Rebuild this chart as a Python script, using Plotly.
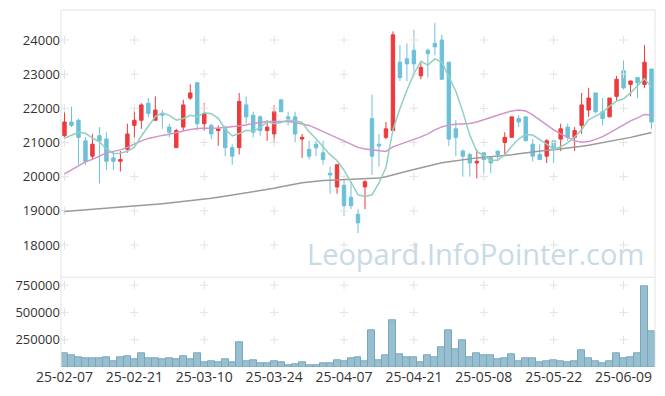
import plotly.graph_objects as go

dates = [
    "25-02-07", "25-02-10", "25-02-11", "25-02-12", "25-02-13", "25-02-14", "25-02-17", "25-02-18",
    "25-02-19", "25-02-20", "25-02-21", "25-02-24", "25-02-25", "25-02-26", "25-02-27", "25-02-28",
    "25-03-04", "25-03-05", "25-03-06", "25-03-07", "25-03-10", "25-03-11", "25-03-12", "25-03-13",
    "25-03-14", "25-03-17", "25-03-18", "25-03-19", "25-03-20", "25-03-21", "25-03-24", "25-03-25",
    "25-03-26", "25-03-27", "25-03-28", "25-03-31", "25-04-01", "25-04-02", "25-04-03", "25-04-04",
    "25-04-07", "25-04-08", "25-04-09", "25-04-10", "25-04-11", "25-04-14", "25-04-15", "25-04-16",
    "25-04-17", "25-04-18", "25-04-21", "25-04-22", "25-04-23", "25-04-24", "25-04-25", "25-04-28",
    "25-04-29", "25-04-30", "25-05-02", "25-05-07", "25-05-08", "25-05-09", "25-05-12", "25-05-13",
    "25-05-14", "25-05-15", "25-05-16", "25-05-19", "25-05-20", "25-05-21", "25-05-22", "25-05-23",
    "25-05-26", "25-05-27", "25-05-28", "25-05-29", "25-05-30", "25-06-02", "25-06-04", "25-06-05",
    "25-06-09", "25-06-10", "25-06-11", "25-06-12", "25-06-13",
]

opens = [
    21200, 21600, 21650, 21050, 20600, 21200, 21100, 20550, 20450, 20800,
    21500, 21650, 22150, 21650, 21850, 21450, 20850, 21450, 22300, 22750,
    21550, 21500, 21350, 21400, 20850, 20850, 22100, 21800, 21750, 21350,
    21250, 22250, 21750, 21750, 21100, 20800, 20950, 20700, 20100, 19700,
    19750, 19400, 18900, 19700, 21700, 20950, 21150, 21350, 23350, 23450,
    23700, 22950, 23700, 23900, 24000, 23350, 21400, 20750, 20650, 20400,
    20700, 20550, 20750, 21000, 21150, 21700, 21750, 20950, 20650, 20600,
    21050, 21100, 21450, 21150, 21500, 21950, 22450, 21900, 21750, 22350,
    23100, 22700, 22900, 22700, 23150,
]
highs = [
    21900, 22050, 21700, 21150, 21250, 21450, 21300, 20750, 20750, 21550,
    21950, 22150, 22300, 22350, 21950, 21550, 21400, 22250, 22700, 22750,
    22150, 21550, 21500, 21500, 20950, 22450, 22350, 21900, 21800, 21650,
    22100, 22250, 21900, 21900, 21250, 21050, 21050, 21050, 20300, 20350,
    19900, 19850, 19050, 19900, 22400, 21250, 21600, 24250, 23850, 23900,
    24300, 23350, 23750, 24500, 24150, 23350, 21650, 20800, 20700, 20800,
    20700, 20600, 20750, 21300, 21750, 21800, 21750, 21100, 20950, 21100,
    21050, 21550, 21550, 21450, 22450, 22600, 22450, 22300, 22300, 22950,
    23400, 22800, 22900, 23850, 23150,
]
lows = [
    21150, 21450, 20350, 20350, 20500, 19800, 20200, 20200, 20150, 20700,
    21150, 21400, 21750, 21650, 21400, 21150, 20850, 21350, 22250, 21350,
    21350, 21100, 20900, 20600, 20350, 20650, 21550, 21150, 21200, 21050,
    21000, 21900, 21500, 21000, 20550, 20500, 20600, 20350, 19500, 19500,
    18850, 19050, 18350, 19050, 20050, 20300, 21100, 21350, 22800, 22800,
    23050, 22850, 22900, 23550, 22850, 20900, 20600, 20000, 20000, 19950,
    20100, 20100, 20450, 20600, 21150, 21450, 21050, 20450, 20500, 20400,
    20400, 20750, 21050, 20750, 21250, 21750, 21850, 21500, 21750, 22200,
    22550, 22350, 22300, 22600, 21400,
]
closes = [
    21600, 21500, 21150, 20450, 20950, 21050, 20450, 20450, 20500, 21250,
    21650, 22100, 21850, 21950, 21800, 21300, 21350, 22100, 22450, 21550,
    21850, 21250, 21400, 20850, 20600, 22200, 21750, 21300, 21350, 21450,
    21900, 21900, 21700, 21250, 21150, 20600, 20850, 20500, 20050, 20350,
    19150, 19150, 18650, 19850, 20600, 20900, 21400, 24150, 22900, 23300,
    23300, 23200, 23600, 23800, 22850, 21100, 21150, 20600, 20400, 20450,
    20500, 20400, 20650, 21150, 21750, 21600, 21050, 20600, 20500, 21050,
    20850, 21400, 21150, 21350, 22100, 22300, 21900, 21700, 22300, 22850,
    22600, 22800, 22750, 23350, 21600,
]
ma5 = [
    21126, 21220, 21300, 21270, 21126, 21023, 20812, 20672, 20687, 20746,
    20863, 21190, 21474, 21760, 21868, 21794, 21652, 21700, 21798, 21752,
    21869, 21844, 21706, 21388, 21192, 21261, 21358, 21335, 21434, 21606,
    21547, 21582, 21661, 21640, 21585, 21317, 21107, 20875, 20643, 20475,
    20189, 19844, 19468, 19419, 19470, 19815, 20267, 21374, 21986, 22528,
    23012, 23378, 23265, 23446, 23357, 22916, 22501, 21896, 21215, 20737,
    20620, 20470, 20486, 20638, 20894, 21108, 21234, 21218, 21090, 20951,
    20801, 20874, 20991, 21162, 21372, 21665, 21772, 21879, 22065, 22217,
    22279, 22450, 22658, 22869, 22613,
]
ma20 = [
    20082, 20199, 20316, 20433, 20506, 20608, 20696, 20740, 20784, 20857,
    20959, 21047, 21120, 21172, 21208, 21243, 21281, 21339, 21383, 21412,
    21418, 21418, 21427, 21441, 21465, 21485, 21515, 21559, 21588, 21611,
    21611, 21611, 21611, 21588, 21544, 21500, 21412, 21319, 21222, 21135,
    21026, 20944, 20857, 20813, 20784, 20754, 20740, 20871, 20944, 21003,
    21091, 21164, 21251, 21368, 21456, 21515, 21535, 21544, 21559, 21602,
    21661, 21734, 21798, 21865, 21924, 21953, 21924, 21807, 21661, 21515,
    21368, 21251, 21149, 21047, 21009, 21026, 21091, 21172, 21281, 21398,
    21515, 21632, 21719, 21822, 21807,
]
ma60 = [
    18980, 18995, 19010, 19025, 19045, 19060, 19075, 19090, 19105, 19120,
    19140, 19155, 19175, 19190, 19210, 19230, 19250, 19270, 19295, 19320,
    19340, 19370, 19400, 19430, 19460, 19490, 19525, 19560, 19595, 19630,
    19660, 19705, 19750, 19790, 19820, 19845, 19870, 19885, 19895, 19905,
    19910, 19920, 19930, 19935, 19945, 19960, 20000, 20060, 20110, 20160,
    20210, 20260, 20320, 20370, 20410, 20440, 20470, 20500, 20530, 20550,
    20565, 20580, 20590, 20615, 20640, 20670, 20700, 20725, 20750, 20770,
    20790, 20810, 20835, 20860, 20890, 20920, 20955, 20990, 21030, 21070,
    21110, 21150, 21195, 21240, 21290,
]
volumes = [
    128000, 103000, 92000, 82000, 82000, 82000, 92000, 55000, 92000, 101000,
    73000, 128000, 82000, 82000, 73000, 82000, 73000, 101000, 73000, 128000,
    46000, 55000, 46000, 73000, 46000, 229000, 55000, 64000, 37000, 37000,
    55000, 46000, 18000, 27000, 46000, 18000, 18000, 37000, 35000, 66000,
    55000, 82000, 92000, 55000, 339000, 64000, 110000, 430000, 119000, 92000,
    92000, 46000, 110000, 92000, 183000, 339000, 165000, 247000, 92000, 128000,
    110000, 110000, 73000, 82000, 119000, 55000, 82000, 82000, 46000, 55000,
    64000, 55000, 46000, 55000, 156000, 82000, 55000, 37000, 55000, 128000,
    82000, 92000, 128000, 742000, 330000,
]
x_ticks = ["25-02-07", "25-02-21", "25-03-10", "25-03-24", "25-04-07",
           "25-04-21", "25-05-08", "25-05-22", "25-06-09"]
price_ticks = [18000, 19000, 20000, 21000, 22000, 23000, 24000]
vol_ticks = [250000, 500000, 750000]
vol_tick_text = ["250000", "500000", "750000"]

RED = "#ec3a3d"
BLUE = "#6cc0d8"
GRID = "#e2e2e2"
FONT = "Open Sans"

fig = go.Figure()

fig.add_trace(go.Candlestick(
    x=dates, open=opens, high=highs, low=lows, close=closes,
    xaxis="x", yaxis="y",
    increasing=dict(line=dict(color=RED, width=1), fillcolor=RED),
    decreasing=dict(line=dict(color=BLUE, width=1), fillcolor=BLUE),
    whiskerwidth=0, showlegend=False,
))

# grid crosses at tick intersections
cx, cy = [], []
for t in x_ticks:
    for p in price_ticks:
        cx.append(t); cy.append(p)
fig.add_trace(go.Scatter(x=cx, y=cy, mode="markers", xaxis="x", yaxis="y",
                         marker=dict(symbol="cross-thin", size=6, line=dict(color=GRID, width=1)),
                         hoverinfo="skip", showlegend=False))
vx, vy = [], []
for t in x_ticks:
    for v in vol_ticks:
        vx.append(t); vy.append(v)
fig.add_trace(go.Scatter(x=vx, y=vy, mode="markers", xaxis="x", yaxis="y2",
                         marker=dict(symbol="cross-thin", size=6, line=dict(color=GRID, width=1)),
                         hoverinfo="skip", showlegend=False))

fig.add_trace(go.Scatter(x=dates, y=ma60, mode="lines", line=dict(color="#9a9a9a", width=1.5),
                         xaxis="x", yaxis="y", showlegend=False))
fig.add_trace(go.Scatter(x=dates, y=ma20, mode="lines", line=dict(color="#d193c9", width=1.5),
                         xaxis="x", yaxis="y", showlegend=False))
fig.add_trace(go.Scatter(x=dates, y=ma5, mode="lines", line=dict(color="#8fd0c1", width=1.5),
                         xaxis="x", yaxis="y", showlegend=False))

fig.add_trace(go.Bar(x=dates, y=volumes, xaxis="x", yaxis="y2",
                     marker=dict(color="#98bfd0", line=dict(color="#78a7bd", width=1)),
                     showlegend=False))

# the page body has an 8px margin, so the figure is sized/margined to compensate
SEP = 0.2513
fig.update_layout(
    width=657, height=388,
    margin=dict(l=53, r=10, t=2, b=29),
    paper_bgcolor="white", plot_bgcolor="white",
    font=dict(family=FONT, size=13, color="#333333"),
    bargap=0.0,
    showlegend=False,
    xaxis=dict(type="category", categoryorder="array", categoryarray=dates,
               range=[-0.5, 84.5], anchor="y2", automargin=False,
               tickmode="array", tickvals=x_ticks, ticktext=x_ticks, tickangle=0,
               showgrid=False, zeroline=False, showline=False, ticks="",
               tickfont=dict(size=14, color="#333333"),
               rangeslider=dict(visible=False)),
    yaxis=dict(domain=[SEP, 1], range=[17056, 24877], tickvals=price_ticks,
               ticktext=[str(p) for p in price_ticks], automargin=False,
               showgrid=False, zeroline=False, showline=False, ticks="",
               tickfont=dict(size=13, color="#333333")),
    yaxis2=dict(domain=[0, SEP], range=[0, 822000], tickvals=vol_ticks, ticktext=vol_tick_text,
                automargin=False,
                showgrid=False, zeroline=False, showline=False, ticks="",
                tickfont=dict(size=13, color="#333333")),
    shapes=[
        dict(type="line", xref="paper", yref="paper", x0=0, x1=1, y0=1, y1=1,
             line=dict(color="#e3e3e3", width=1)),
        dict(type="line", xref="paper", yref="paper", x0=0, x1=1, y0=SEP, y1=SEP,
             line=dict(color="#e3e3e3", width=1)),
        dict(type="line", xref="paper", yref="paper", x0=0, x1=0, y0=0, y1=1,
             line=dict(color="#e3e3e3", width=1)),
        dict(type="line", xref="paper", yref="paper", x0=1, x1=1, y0=0, y1=1,
             line=dict(color="#e3e3e3", width=1)),
    ],
    annotations=[
        dict(text="Leopard.InfoPointer.com", xref="paper", yref="paper",
             x=0.697, y=0.317, xanchor="center", yanchor="middle", showarrow=False,
             font=dict(family=FONT, size=29, color="#c8dae5")),
    ],
)

fig.write_html("out.html")
